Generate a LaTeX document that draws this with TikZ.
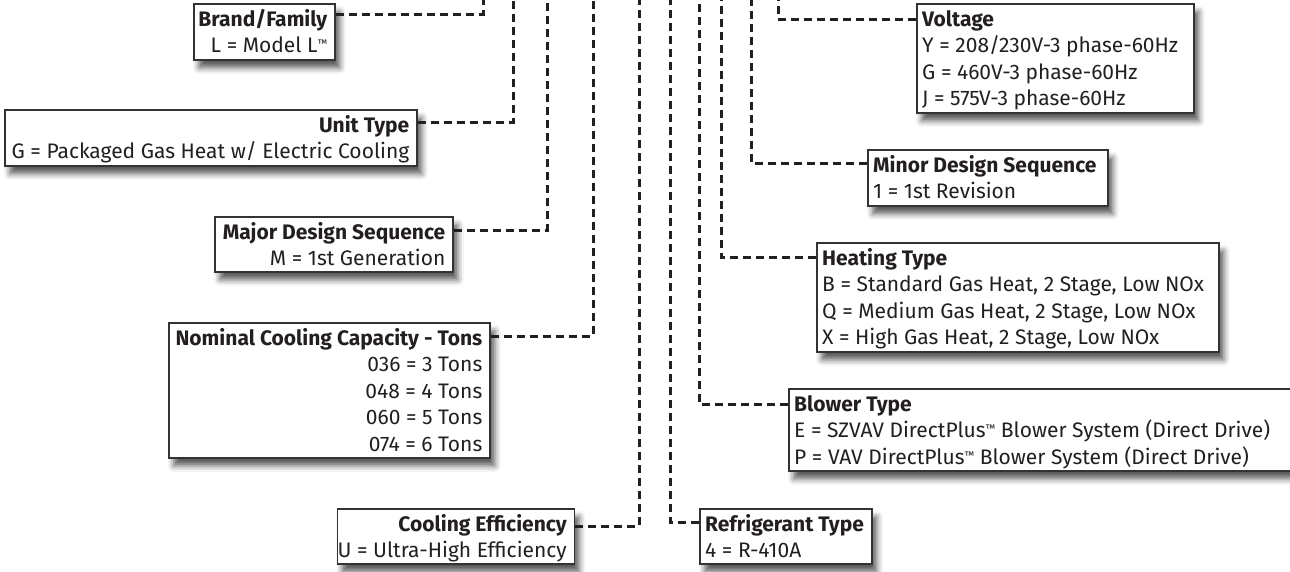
\documentclass[tikz,border=0pt]{standalone}
\usepackage{fontspec}
\setmainfont{Fira Sans}
\usetikzlibrary{shadows.blur}
\definecolor{ink}{HTML}{231F20}
\definecolor{edge}{HTML}{333333}
\newcommand{\tmk}{\raisebox{5pt}{\fontsize{11}{11}\selectfont ™}}
\tikzset{
  box/.style={draw=edge, line width=1.6pt, fill=white, rectangle, inner sep=0pt, anchor=north west,
    blur shadow={shadow xshift=5pt, shadow yshift=-8pt, shadow blur radius=6pt, shadow opacity=65}},
  hd/.style={font=\fontsize{21}{26}\selectfont\bfseries, inner sep=0pt, text=ink},
  tx/.style={font=\fontsize{21}{26}\selectfont, inner sep=0pt, text=ink},
  conn/.style={draw=ink, line width=3pt, dash pattern=on 8pt off 5pt}
}
\begin{document}
\begin{tikzpicture}[x=1pt,y=-1pt]
\useasboundingbox (0,0) rectangle (1290,571);
% top ends of the vertical leaders
\coordinate (tBrand) at (483,-6);
\coordinate (tUnit) at (513,-6);
\coordinate (tMajor) at (547,-6);
\coordinate (tNom) at (593,-6);
\coordinate (tCool) at (639,-6);
\coordinate (tRef) at (670,-6);
\coordinate (tBlow) at (699,-6);
\coordinate (tHeat) at (721,-6);
\coordinate (tMinor) at (751,-6);
\coordinate (tVolt) at (778,-6);
% leader heights
\coordinate (yBrand) at (0,14);
\coordinate (yUnit) at (0,122);
\coordinate (yMajor) at (0,230);
\coordinate (yNom) at (0,336);
\coordinate (yCool) at (0,526);
\coordinate (yRef) at (0,522);
\coordinate (yBlow) at (0,404);
\coordinate (yHeat) at (0,257);
\coordinate (yMinor) at (0,163);
\coordinate (yVolt) at (0,19);

% boxes
\node[box, minimum width=141pt, minimum height=56pt] (brand) at (193,3) {};
\node[box, minimum width=412pt, minimum height=56pt] (unit) at (4,109) {};
\node[box, minimum width=238pt, minimum height=55pt] (major) at (214,216) {};
\node[box, minimum width=321pt, minimum height=135pt] (nom) at (168,322) {};
\node[box, minimum width=237pt, minimum height=55pt] (cool) at (336.5,508) {};
\node[box, minimum width=277pt, minimum height=109pt] (volt) at (916,3) {};
\node[box, minimum width=240pt, minimum height=56pt] (minor) at (867,149) {};
\node[box, minimum width=402pt, minimum height=109pt] (heat) at (816,242) {};
\node[box, minimum width=520pt, minimum height=82pt] (blow) at (788,388) {};
\node[box, minimum width=172pt, minimum height=55pt] (ref) at (699,508) {};

% connectors
\draw[conn] (brand.east |- yBrand) -| (tBrand);
\draw[conn] (unit.east |- yUnit) -| (tUnit);
\draw[conn] (major.east |- yMajor) -| (tMajor);
\draw[conn] (nom.east |- yNom) -| (tNom);
\draw[conn] (cool.east |- yCool) -| (tCool);
\draw[conn] (ref.west |- yRef) -| (tRef);
\draw[conn] (blow.west |- yBlow) -| (tBlow);
\draw[conn] (heat.west |- yHeat) -| (tHeat);
\draw[conn] (minor.west |- yMinor) -| (tMinor);
\draw[conn] (volt.west |- yVolt) -| (tVolt);

% left texts (right aligned)
\node[hd, anchor=base east] (brand1) at (327.5,26) {Brand/Family};
\node[tx, anchor=base east] (brand2) at (327.5,52.5) {L = Model L\tmk};
\node[hd, anchor=base east] (unit1) at (409.5,132) {Unit Type};
\node[tx, anchor=base east] (unit2) at (409.5,158.5) {G = Packaged Gas Heat w/ Electric Cooling};
\node[hd, anchor=base east] (major1) at (445.5,239) {Major Design Sequence};
\node[tx, anchor=base east] (major2) at (445.5,265.5) {M = 1st Generation};
\node[hd, anchor=base east] (nom1) at (482.5,345) {Nominal Cooling Capacity - Tons};
\node[tx, anchor=base east] (nom2) at (482.5,371.5) {036 = 3 Tons};
\node[tx, anchor=base east] (nom3) at (482.5,398) {048 = 4 Tons};
\node[tx, anchor=base east] (nom4) at (482.5,424.5) {060 = 5 Tons};
\node[tx, anchor=base east] (nom5) at (482.5,451) {074 = 6 Tons};
\node[hd, anchor=base east] (cool1) at (567,531) {Cooling Efficiency};
\node[tx, anchor=base east] (cool2) at (567,557.5) {U = Ultra-High Efficiency};

% right texts (left aligned)
\node[hd, anchor=base west] (volt1) at (922,26) {Voltage};
\node[tx, anchor=base west] (volt2) at (922,52.5) {Y = 208/230V-3 phase-60Hz};
\node[tx, anchor=base west] (volt3) at (922,79) {G = 460V-3 phase-60Hz};
\node[tx, anchor=base west] (volt4) at (922,105.5) {J = 575V-3 phase-60Hz};
\node[hd, anchor=base west] (minor1) at (873,172) {Minor Design Sequence};
\node[tx, anchor=base west] (minor2) at (873,198.5) {1 = 1st Revision};
\node[hd, anchor=base west] (heat1) at (822,265) {Heating Type};
\node[tx, anchor=base west] (heat2) at (822,291.5) {B = Standard Gas Heat, 2 Stage, Low NOx};
\node[tx, anchor=base west] (heat3) at (822,318) {Q = Medium Gas Heat, 2 Stage, Low NOx};
\node[tx, anchor=base west] (heat4) at (822,344.5) {X = High Gas Heat, 2 Stage, Low NOx};
\node[hd, anchor=base west] (blow1) at (794,411) {Blower Type};
\node[tx, anchor=base west] (blow2) at (794,437.5) {E = SZVAV DirectPlus\tmk\ Blower System (Direct Drive)};
\node[tx, anchor=base west] (blow3) at (794,464) {P = VAV DirectPlus\tmk\ Blower System (Direct Drive)};
\node[hd, anchor=base west] (ref1) at (705,531) {Refrigerant Type};
\node[tx, anchor=base west] (ref2) at (705,557.5) {4 = R-410A};
\end{tikzpicture}
\end{document}
